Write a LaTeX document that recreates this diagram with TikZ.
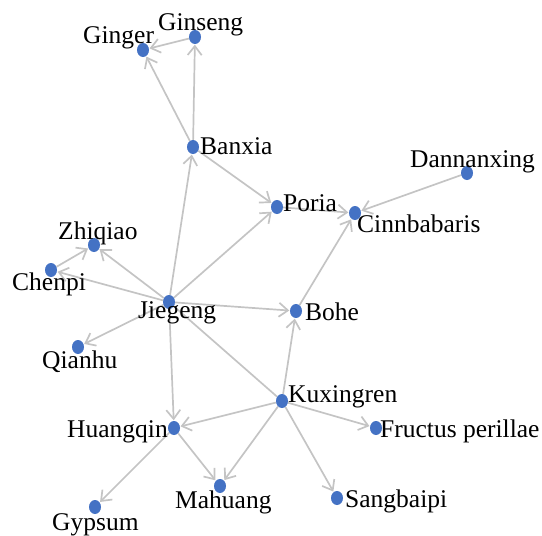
\documentclass[tikz,border=0pt]{standalone}
\usepackage{fontspec}
\setmainfont{Liberation Serif}
\usetikzlibrary{shapes.geometric,arrows.meta,backgrounds}
\definecolor{dotblue}{RGB}{68,114,196}
\definecolor{edgegray}{RGB}{196,196,196}
\tikzset{
  herb/.style={ellipse,fill=dotblue,draw=none,minimum width=12pt,minimum height=14pt,inner sep=0pt},
  lbl/.style={inner sep=0pt,font=\fontsize{25.5}{28}\selectfont,text=black},
  link/.style={draw=edgegray,line width=1.7pt,-{Straight Barb[length=9pt,width=14pt,line width=1.7pt]},shorten >=0.5pt},
  plain/.style={draw=edgegray,line width=1.7pt}
}
\begin{document}
\begin{tikzpicture}[x=1pt,y=-1pt]
\useasboundingbox (0,0) rectangle (542,536);
% dots
\node[herb] (ginger) at (143,50) {};
\node[herb] (ginseng) at (195,37) {};
\node[herb] (banxia) at (193,147) {};
\node[herb] (poria) at (277,207) {};
\node[herb] (cinn) at (355,213) {};
\node[herb] (dann) at (467,173) {};
\node[herb] (zhiqiao) at (94,245) {};
\node[herb] (chenpi) at (51,270) {};
\node[herb] (jiegeng) at (169,302) {};
\node[herb] (bohe) at (296,311) {};
\node[herb] (qianhu) at (78,347) {};
\node[herb] (kux) at (282,401) {};
\node[herb] (huang) at (174,428) {};
\node[herb] (fruct) at (376,428) {};
\node[herb] (mahuang) at (220,486) {};
\node[herb] (sang) at (337,498) {};
\node[herb] (gyp) at (95,507) {};
% labels
\node[lbl,anchor=base west] (l-ginger) at (83,43) {Ginger};
\node[lbl,anchor=base west] (l-ginseng) at (158,30) {Ginseng};
\node[lbl,anchor=base west] (l-banxia) at (200,154) {Banxia};
\node[lbl,anchor=base west] (l-poria) at (283,211) {Poria};
\node[lbl,anchor=base west] (l-cinn) at (357,232) {Cinnbabaris};
\node[lbl,anchor=base west] (l-dann) at (410,167) {Dannanxing};
\node[lbl,anchor=base west] (l-bohe) at (305,320) {Bohe};
\node[lbl,anchor=base west] (l-zhiqiao) at (58,239) {Zhiqiao};
\node[lbl,anchor=base west] (l-chenpi) at (12,290) {Chenpi};
\node[lbl,anchor=base west] (l-jiegeng) at (138,318) {Jiegeng};
\node[lbl,anchor=base west] (l-qianhu) at (42,368) {Qianhu};
\node[lbl,anchor=base west] (l-kux) at (288,402) {Kuxingren};
\node[lbl,anchor=base west] (l-huang) at (67,437) {Huangqin};
\node[lbl,anchor=base west] (l-fruct) at (380,437) {Fructus perillae};
\node[lbl,anchor=base west] (l-mahuang) at (175,508) {Mahuang};
\node[lbl,anchor=base west] (l-sang) at (345,507) {Sangbaipi};
\node[lbl,anchor=base west] (l-gyp) at (52,530) {Gypsum};
% edges
\begin{scope}[on background layer]
\draw[link] (ginseng) -- (ginger);
\draw[link] (banxia) -- (ginger);
\draw[link] (banxia) -- (ginseng);
\draw[link] (jiegeng) -- (banxia);
\draw[link] (banxia) -- (poria);
\draw[link] (jiegeng) -- (poria);
\draw[link] (poria) -- (cinn);
\draw[link] (dann) -- (cinn);
\draw[link] (bohe) -- (cinn);
\draw[link] (jiegeng) -- (bohe);
\draw[link] (jiegeng) -- (zhiqiao);
\draw[link] (jiegeng) -- (chenpi);
\draw[link] (chenpi) -- (zhiqiao);
\draw[link] (jiegeng) -- (qianhu);
\draw[link] (jiegeng) -- (huang);
\draw[plain] (jiegeng) -- (kux);
\draw[link] (kux) -- (bohe);
\draw[link] (kux) -- (huang);
\draw[link] (kux) -- (fruct);
\draw[link] (kux) -- (mahuang);
\draw[link] (kux) -- (sang);
\draw[link] (huang) -- (mahuang);
\draw[link] (huang) -- (gyp);
\end{scope}
\end{tikzpicture}
\end{document}
